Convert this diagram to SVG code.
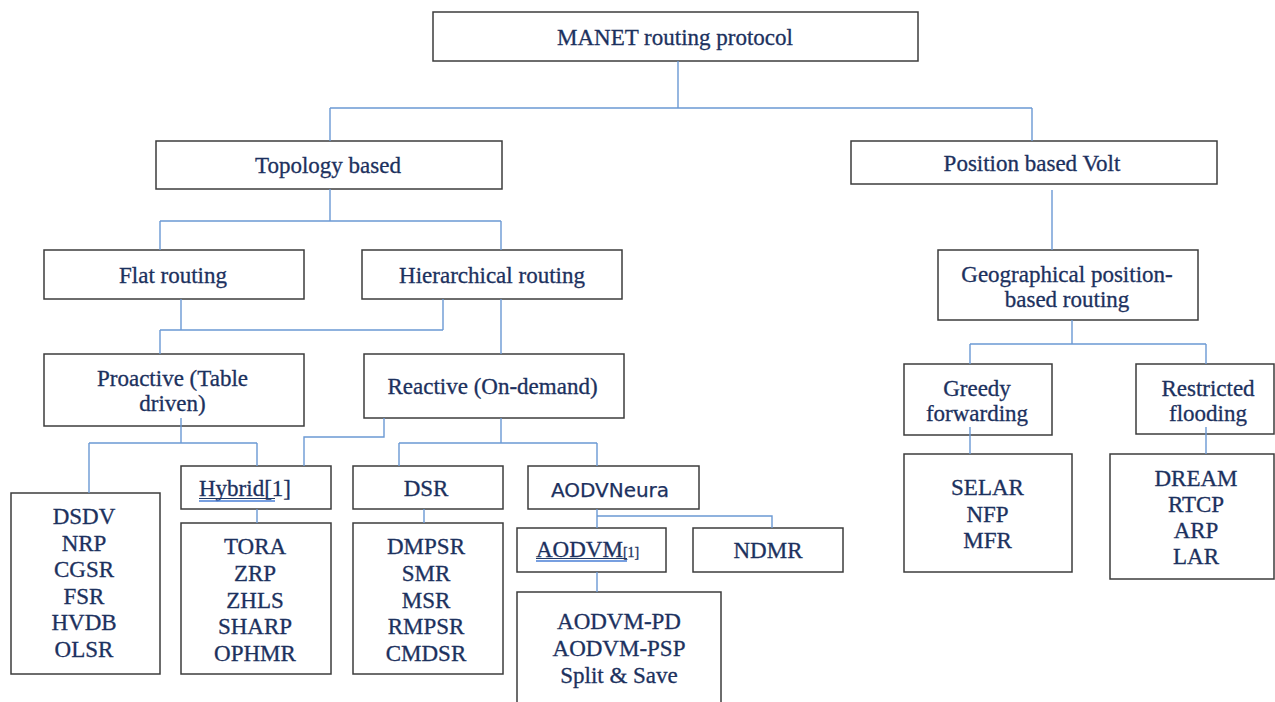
<svg xmlns="http://www.w3.org/2000/svg" width="1275" height="702" viewBox="0 0 1275 702">
  <style>
    .box { fill: #ffffff; stroke: #3c3c3c; stroke-width: 1.5; }
    .t { font-family: "Liberation Serif", "Times New Roman", serif; font-size: 23px; fill: #1c315e; stroke: #1c315e; stroke-width: 0.3; text-anchor: middle; }
    .ts { font-family: "Liberation Serif", "Times New Roman", serif; font-size: 23px; fill: #1c315e; stroke: #1c315e; stroke-width: 0.3; }
    .sans { font-family: "DejaVu Sans", Verdana, sans-serif; font-size: 20px; fill: #1c315e; stroke: #1c315e; stroke-width: 0.25; text-anchor: middle; }
    .conn { fill: none; stroke: #6b99d4; stroke-width: 1.4; }
    .ul1 { stroke: #1f3864; stroke-width: 1; }
    .ul2 { stroke: #4a7fd6; stroke-width: 1.6; }
  </style>
  <rect width="1275" height="702" fill="#ffffff"/>

  <g id="nodes">
    <g id="n-manet">
      <rect class="box" x="433" y="12" width="485" height="49"/>
      <text class="t" x="675" y="44.5">MANET routing protocol</text>
    </g>
    <g id="n-topology">
      <rect class="box" x="156" y="141" width="346" height="48"/>
      <text class="t" x="328" y="173">Topology based</text>
    </g>
    <g id="n-position">
      <rect class="box" x="851" y="141" width="366" height="43"/>
      <text class="t" x="1032" y="171">Position based Volt</text>
    </g>
    <g id="n-flat">
      <rect class="box" x="44" y="250" width="260" height="49"/>
      <text class="t" x="173" y="283">Flat routing</text>
    </g>
    <g id="n-hier">
      <rect class="box" x="362" y="250" width="260" height="49"/>
      <text class="t" x="492" y="283">Hierarchical routing</text>
    </g>
    <g id="n-geo">
      <rect class="box" x="938" y="250" width="260" height="70"/>
      <text class="t" x="1067" y="282">Geographical position-</text>
      <text class="t" x="1067" y="307">based routing</text>
    </g>
    <g id="n-proactive">
      <rect class="box" x="44" y="354" width="260" height="72"/>
      <text class="t" x="172.5" y="386">Proactive (Table</text>
      <text class="t" x="172.5" y="411">driven)</text>
    </g>
    <g id="n-reactive">
      <rect class="box" x="364" y="354" width="260" height="64"/>
      <text class="t" x="492.5" y="394">Reactive (On-demand)</text>
    </g>
    <g id="n-hybrid">
      <rect class="box" x="181" y="466" width="150" height="43"/>
      <text class="ts" x="199" y="496">Hybrid<tspan>[1]</tspan></text>
      <line class="ul1" x1="199" y1="498.5" x2="275" y2="498.5"/>
      <line class="ul2" x1="199" y1="501" x2="275" y2="501"/>
    </g>
    <g id="n-dsr">
      <rect class="box" x="353" y="466" width="150" height="43"/>
      <text class="t" x="426" y="496">DSR</text>
    </g>
    <g id="n-aodvneura">
      <rect class="box" x="528" y="466" width="171" height="43"/>
      <text class="sans" x="610" y="497">AODVNeura</text>
    </g>
    <g id="n-aodvm">
      <rect class="box" x="517" y="528" width="149" height="44"/>
      <text class="ts" x="536" y="557">AODVM<tspan font-size="14">[1]</tspan></text>
      <line class="ul1" x1="536" y1="558.5" x2="627" y2="558.5"/>
      <line class="ul2" x1="536" y1="561" x2="627" y2="561"/>
    </g>
    <g id="n-ndmr">
      <rect class="box" x="693" y="528" width="150" height="44"/>
      <text class="t" x="768" y="558">NDMR</text>
    </g>
    <g id="n-greedy">
      <rect class="box" x="904" y="364" width="148" height="71"/>
      <text class="t" x="977" y="396">Greedy</text>
      <text class="t" x="977" y="421">forwarding</text>
    </g>
    <g id="n-restricted">
      <rect class="box" x="1136" y="364" width="138" height="70"/>
      <text class="t" x="1208" y="396">Restricted</text>
      <text class="t" x="1208" y="421">flooding</text>
    </g>
    <g id="n-proactive-list">
      <rect class="box" x="11" y="493" width="149" height="181"/>
      <text class="t" x="84" y="524">DSDV</text>
      <text class="t" x="84" y="550.6">NRP</text>
      <text class="t" x="84" y="577.2">CGSR</text>
      <text class="t" x="84" y="603.8">FSR</text>
      <text class="t" x="84" y="630.4">HVDB</text>
      <text class="t" x="84" y="657">OLSR</text>
    </g>
    <g id="n-hybrid-list">
      <rect class="box" x="181" y="523" width="150" height="151"/>
      <text class="t" x="255" y="554.3">TORA</text>
      <text class="t" x="255" y="580.9">ZRP</text>
      <text class="t" x="255" y="607.5">ZHLS</text>
      <text class="t" x="255" y="634.1">SHARP</text>
      <text class="t" x="255" y="660.7">OPHMR</text>
    </g>
    <g id="n-dsr-list">
      <rect class="box" x="353" y="523" width="150" height="151"/>
      <text class="t" x="426" y="554.3">DMPSR</text>
      <text class="t" x="426" y="580.9">SMR</text>
      <text class="t" x="426" y="607.5">MSR</text>
      <text class="t" x="426" y="634.1">RMPSR</text>
      <text class="t" x="426" y="660.7">CMDSR</text>
    </g>
    <g id="n-aodvm-list">
      <rect class="box" x="517" y="592" width="204" height="130"/>
      <text class="t" x="619" y="629.3">AODVM-PD</text>
      <text class="t" x="619" y="656">AODVM-PSP</text>
      <text class="t" x="619" y="682.7">Split &amp; Save</text>
    </g>
    <g id="n-greedy-list">
      <rect class="box" x="904" y="454" width="168" height="118"/>
      <text class="t" x="987.5" y="495">SELAR</text>
      <text class="t" x="987.5" y="521.5">NFP</text>
      <text class="t" x="987.5" y="548">MFR</text>
    </g>
    <g id="n-restricted-list">
      <rect class="box" x="1110" y="454" width="164" height="125"/>
      <text class="t" x="1196" y="485.5">DREAM</text>
      <text class="t" x="1196" y="511.5">RTCP</text>
      <text class="t" x="1196" y="537.5">ARP</text>
      <text class="t" x="1196" y="563.5">LAR</text>
    </g>
  </g>

  <g id="connectors" class="conn">
    <path d="M678,61 V108 M330,108 H1032 M330,108 V141 M1032,108 V141"/>
    <path d="M1052,190 V250"/>
    <path d="M330,189 V221 M160,221 H501 M160,221 V250 M501,221 V250"/>
    <path d="M181,299 V330 M160,330 H443 M443,299 V330 M160,330 V354 M501,299 V354"/>
    <path d="M181,418 V443 M89,443 H257 M89,443 V493 M257,443 V466"/>
    <path d="M384,418 V437 H304 V466"/>
    <path d="M501,418 V443 M399,443 H597 M399,443 V466 M597,443 V466"/>
    <path d="M257,509 V523 M424,509 V523"/>
    <path d="M597,509 V516 H772 V528 M597,516 V528"/>
    <path d="M597,572 V592"/>
    <path d="M1072,320 V344 M970,344 H1206 M970,344 V364 M1206,344 V364"/>
    <path d="M970,427 V454 M1206,427 V454"/>
  </g>
</svg>
